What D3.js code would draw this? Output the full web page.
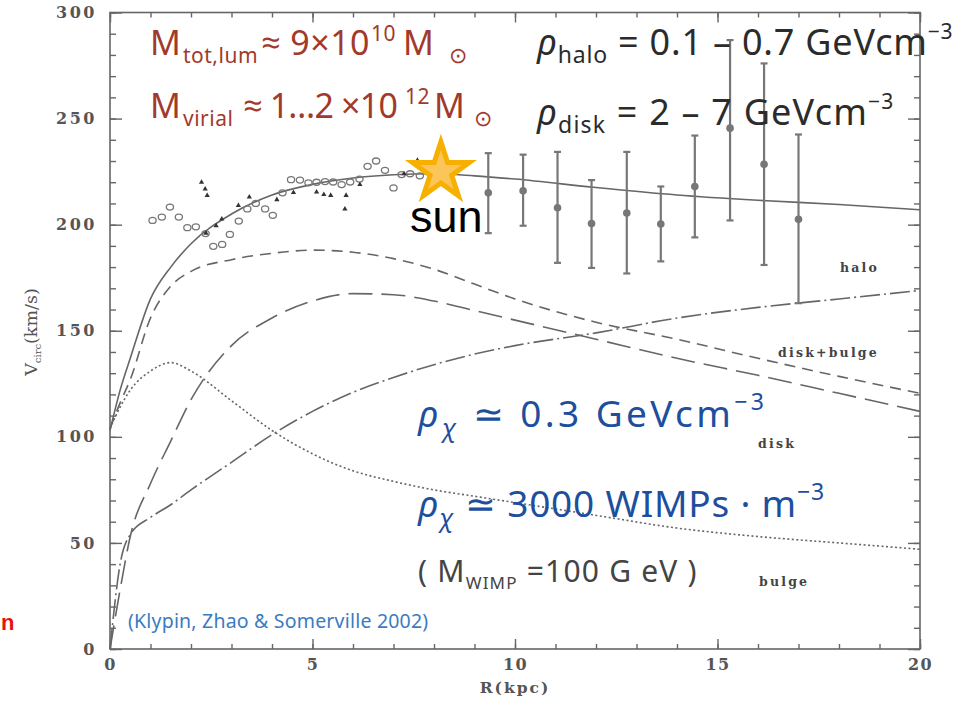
<!DOCTYPE html>
<html>
<head>
<meta charset="utf-8">
<script src="https://cdn.jsdelivr.net/npm/d3@7"></script>
<style>
  body { margin: 0; background: #fff; }
  svg { display: block; }
</style>
</head>
<body>
<script>
// canvas
var w = 965, h = 701;

// model curves (R in kpc, V in km/s)
var R         = [0, 0.25, 0.5, 1, 1.5, 2, 3, 4, 5, 6, 7, 8, 9, 10, 12, 14, 16, 18, 20];
var vTotal    = [103, 122, 137, 165, 180, 191, 205, 214, 219, 222, 223.5, 224, 223, 221.5, 217.5, 214, 211.5, 209.5, 207];
var vDiskBulge= [104, 116, 127, 156, 171, 178, 183.5, 186.5, 188, 187, 184, 179, 172, 165, 154, 146, 137, 128.5, 120.5];
var vDisk     = [0, 28, 53, 78, 98, 117.5, 143, 156, 164, 167.5, 167, 164, 159.5, 155, 146, 137, 129, 120.5, 112];
var vHalo     = [0, 40, 54, 62, 68, 75, 88, 101, 112, 121, 128, 134, 139, 143, 149, 156, 161, 165, 169];
var vBulge    = [104, 114, 122, 131, 135, 131, 117, 103, 92, 84, 79, 75, 72, 69, 63, 57, 53, 50, 47];

// outer rotation curve points with errors
var errR  = [9.34, 10.2, 11.05, 11.89, 12.76, 13.6, 14.44, 15.31, 16.15, 17.0];
var errV  = [215, 216, 208, 200.5, 205.5, 200.3, 218, 245.5, 228.5, 202.5];
var errLo = [196, 199.5, 182, 179.6, 177, 182.7, 194, 202, 181, 163];
var errHi = [233.7, 233, 234.3, 221, 234.3, 218, 242, 287, 276, 242.5];

// inner data: open circles
var obsR = [1.05, 1.28, 1.48, 1.70, 1.91, 2.12, 2.36, 2.55, 2.77, 2.96, 3.18, 3.39, 3.60, 3.83, 4.02, 4.26, 4.47, 4.69, 4.90, 5.10, 5.31, 5.51, 5.72, 5.93, 6.16, 6.36, 6.57, 6.79, 7.00, 7.20, 7.41, 7.65];
var obsV = [202, 203.6, 208.3, 203.6, 198.6, 199, 195.8, 189.8, 190.7, 195.4, 201.7, 207.4, 210, 207.4, 204.4, 215, 221.2, 221, 219.7, 220, 220.3, 220.1, 218.9, 220.1, 221.5, 227.5, 230, 225.6, 217.3, 223.6, 224, 223];

// inner data: filled markers
var dotR = [2.26, 2.35, 2.40, 2.37, 2.62, 2.76, 3.17, 3.44, 4.12, 4.53, 5.10, 5.28, 5.45, 5.83, 5.80, 6.17, 7.26, 7.59, 7.90];
var dotV = [220, 216.8, 213.7, 196, 199.5, 202.7, 209, 213, 211.8, 215.2, 215.4, 214.2, 213.8, 213.8, 207.4, 218.9, 224, 230.3, 229];

// sun position
var sunR = 8.17, sunV = 225;

// ticks
var xMajor = [0, 5, 10, 15, 20];
var yMajor = [0, 50, 100, 150, 200, 250, 300];

var svg = d3.select("body").append("svg")
	.attr("width", w)
	.attr("height", h);

var x = d3.scaleLinear().domain([0, 20]).range([110, 920]);
var y = d3.scaleLinear().domain([0, 300]).range([649, 12.5]);

var axisColor = "#666";
var tickFont = "'DejaVu Serif', serif";

// frame
svg.append("rect")
	.attr("x", x(0)).attr("y", y(300))
	.attr("width", x(20) - x(0)).attr("height", y(0) - y(300))
	.attr("fill", "none").attr("stroke", axisColor).attr("stroke-width", 1.6);

function styleAxis(g, spacing) {
	g.select(".domain").remove();
	g.selectAll(".tick line").attr("stroke", axisColor).attr("stroke-width", 1.4);
	g.selectAll(".tick text")
		.attr("fill", "#555")
		.style("font-family", tickFont)
		.style("font-size", "16px")
		.style("font-weight", "bold")
		.style("letter-spacing", (spacing || 1) + "px");
}

// bottom
svg.append("g").attr("transform", "translate(0," + y(0) + ")")
	.call(d3.axisBottom(x).tickValues(d3.range(0, 21, 1)).tickSize(-5).tickFormat(""))
	.call(styleAxis);
svg.append("g").attr("transform", "translate(0," + y(0) + ")")
	.call(d3.axisBottom(x).tickValues(xMajor).tickSize(-10).tickPadding(10).tickFormat(d3.format("d")))
	.call(styleAxis, 1.5);
// top
svg.append("g").attr("transform", "translate(0," + y(300) + ")")
	.call(d3.axisTop(x).tickValues(d3.range(0, 21, 1)).tickSize(-5).tickFormat(""))
	.call(styleAxis);
svg.append("g").attr("transform", "translate(0," + y(300) + ")")
	.call(d3.axisTop(x).tickValues(xMajor).tickSize(-10).tickFormat(""))
	.call(styleAxis);
// left
svg.append("g").attr("transform", "translate(" + x(0) + ",0)")
	.call(d3.axisLeft(y).tickValues(d3.range(0, 301, 10)).tickSize(-6).tickFormat(""))
	.call(styleAxis);
svg.append("g").attr("transform", "translate(" + x(0) + ",0)")
	.call(d3.axisLeft(y).tickValues(yMajor).tickSize(-12).tickPadding(13).tickFormat(d3.format("d")))
	.call(styleAxis, 2.5);
// right
svg.append("g").attr("transform", "translate(" + x(20) + ",0)")
	.call(d3.axisRight(y).tickValues(d3.range(0, 301, 10)).tickSize(-6).tickFormat(""))
	.call(styleAxis);
svg.append("g").attr("transform", "translate(" + x(20) + ",0)")
	.call(d3.axisRight(y).tickValues(yMajor).tickSize(-12).tickFormat(""))
	.call(styleAxis);

// axis titles
svg.append("text")
	.attr("x", 515).attr("y", 693)
	.attr("text-anchor", "middle")
	.attr("fill", "#555")
	.style("font-family", tickFont).style("font-size", "15.5px").style("font-weight", "bold")
	.style("letter-spacing", "2px")
	.text("R(kpc)");

var yt = svg.append("text")
	.attr("transform", "translate(37,332) rotate(-90)")
	.attr("text-anchor", "middle")
	.attr("fill", "#555")
	.style("font-family", tickFont).style("font-size", "17.5px");
yt.append("tspan").text("V");
yt.append("tspan").attr("dy", 4).style("font-size", "10px").text("circ");
yt.append("tspan").attr("dy", -4).text("(km/s)");

// model curves
var curves = [
	{ v: vTotal,     dash: null },
	{ v: vDiskBulge, dash: "11,7" },
	{ v: vDisk,      dash: "24,9" },
	{ v: vHalo,      dash: "20,4,2,4" },
	{ v: vBulge,     dash: "2,2.5" }
];

var line = d3.line()
	.x(function(d) { return x(d[0]); })
	.y(function(d) { return y(d[1]); })
	.curve(d3.curveMonotoneX);

curves.forEach(function(c) {
	svg.append("path")
		.datum(R.map(function(r, i) { return [r, c.v[i]]; }))
		.attr("d", line)
		.attr("fill", "none")
		.attr("stroke", "#666")
		.attr("stroke-width", 1.6)
		.attr("stroke-dasharray", c.dash);
});

// error bars
var errG = svg.append("g").attr("stroke", "#777").attr("stroke-width", 2.2);
errR.forEach(function(r, i) {
	errG.append("line")
		.attr("x1", x(r)).attr("x2", x(r))
		.attr("y1", y(errLo[i])).attr("y2", y(errHi[i]));
	errG.append("line")
		.attr("x1", x(r) - 3.5).attr("x2", x(r) + 3.5)
		.attr("y1", y(errLo[i])).attr("y2", y(errLo[i]));
	errG.append("line")
		.attr("x1", x(r) - 3.5).attr("x2", x(r) + 3.5)
		.attr("y1", y(errHi[i])).attr("y2", y(errHi[i]));
});
svg.selectAll(".errdot")
	.data(errR)
	.enter().append("circle")
	.attr("cx", function(d) { return x(d); })
	.attr("cy", function(d, i) { return y(errV[i]); })
	.attr("r", 3.8)
	.attr("fill", "#777");

// open circles
svg.selectAll(".obs")
	.data(obsR)
	.enter().append("ellipse")
	.attr("cx", function(d) { return x(d); })
	.attr("cy", function(d, i) { return y(obsV[i]); })
	.attr("rx", 3.6).attr("ry", 3)
	.attr("fill", "none")
	.attr("stroke", "#777")
	.attr("stroke-width", 1.3);

// filled markers
svg.selectAll(".dot")
	.data(dotR)
	.enter().append("path")
	.attr("d", d3.symbol(d3.symbolTriangle).size(12))
	.attr("transform", function(d, i) { return "translate(" + x(d) + "," + y(dotV[i]) + ")"; })
	.attr("fill", "#333");

// curve labels
var lblStyle = function(t) {
	t.attr("fill", "#444")
		.style("font-family", tickFont)
		.style("font-size", "12.5px")
		.style("font-weight", "bold")
		.style("letter-spacing", "2.2px");
};
svg.append("text").attr("x", 840).attr("y", 272).text("halo").call(lblStyle);
svg.append("text").attr("x", 778).attr("y", 357).text("disk+bulge").call(lblStyle);
svg.append("text").attr("x", 758).attr("y", 448).text("disk").call(lblStyle);
svg.append("text").attr("x", 759).attr("y", 586).text("bulge").call(lblStyle);

// annotations
var sans = "'Noto Sans', 'Open Sans', sans-serif";
var red = "#a23a2b", blue = "#1d4f9e", dark = "#2b2b2b";

// parts: t = text, s = size, dy = shift, i = italic, x = absolute start, ls = letter spacing
function rich(xp, yp, size, color, spacing, parts) {
	var t = svg.append("text")
		.attr("x", xp).attr("y", yp)
		.attr("fill", color)
		.style("font-family", sans)
		.style("font-size", size + "px")
		.style("letter-spacing", spacing + "px");
	parts.forEach(function(p) {
		var s = t.append("tspan").text(p.t);
		if (p.x) s.attr("x", p.x);
		if (p.dy) s.attr("dy", p.dy);
		if (p.s) s.style("font-size", p.s + "px");
		if (p.i) s.style("font-style", "italic");
		if (p.ls !== undefined) s.style("letter-spacing", p.ls + "px");
	});
	return t;
}

rich(150, 55, 34, red, 0.5, [
	{ t: "M" }, { t: "tot,lum", s: 21, dy: 8, x: 183 },
	{ t: "\u2248 9\u00d710", dy: -8, x: 261 }, { t: "10", s: 21, dy: -14, x: 371 },
	{ t: "M", dy: 14, x: 403 }, { t: "\u2299", s: 22, dy: 8, x: 449 }
]);
rich(150, 118, 34, red, 0.5, [
	{ t: "M" }, { t: "virial", s: 21, dy: 8, x: 183 },
	{ t: "\u2248 1\u20262 \u00d710", dy: -8, x: 243, ls: -0.8 }, { t: "12", s: 21, dy: -14, x: 405 },
	{ t: "M", dy: 14, x: 434 }, { t: "\u2299", s: 22, dy: 8, x: 474 }
]);
rich(537, 55, 36, dark, 0.8, [
	{ t: "\u03c1", i: true }, { t: "halo", s: 23, dy: 8 },
	{ t: " = 0.1 \u2013 0.7 GeVcm", dy: -8 }, { t: "\u22123", s: 21, dy: -16 }
]);
rich(537, 125, 36, dark, 1.2, [
	{ t: "\u03c1", i: true }, { t: "disk", s: 23, dy: 8 },
	{ t: " = 2 \u2013 7 GeVcm", dy: -8 }, { t: "\u22123", s: 21, dy: -16 }
]);
rich(418, 427, 37, blue, 3.4, [
	{ t: "\u03c1", i: true }, { t: "\u03c7", s: 25, dy: 10, i: true },
	{ t: " \u2243 0.3 GeVcm", dy: -10 }, { t: "\u22123", s: 23, dy: -17 }
]);
rich(418, 517, 37, blue, 0.8, [
	{ t: "\u03c1", i: true }, { t: "\u03c7", s: 25, dy: 10, i: true },
	{ t: " \u2243 3000 WIMPs \u00b7 m", dy: -10 }, { t: "\u22123", s: 23, dy: -17 }
]);
rich(418, 582, 30, "#444", 1.2, [
	{ t: "( M" }, { t: "WIMP", s: 17, dy: 7 },
	{ t: " =100 G eV )", dy: -7 }
]);
rich(128, 628, 19.5, "#3b7bbf", 0.2, [{ t: "(Klypin, Zhao & Somerville 2002)" }]);

// the sun
svg.append("path")
	.attr("d", d3.symbol(d3.symbolStar).size(1000))
	.attr("transform", "translate(" + x(sunR) + "," + y(sunV) + ")")
	.attr("fill", "#fcc55a")
	.attr("stroke", "#f7b000")
	.attr("stroke-width", 5)
	.attr("stroke-linejoin", "miter");
svg.append("text")
	.attr("x", 410).attr("y", 232)
	.attr("fill", "#000")
	.style("font-family", "'Liberation Sans', Arial, sans-serif")
	.style("font-size", "45px")
	.text("sun");

// red letter at the left edge
svg.append("text")
	.attr("x", 1).attr("y", 630)
	.attr("fill", "#e8120c")
	.style("font-family", "'Liberation Sans', Arial, sans-serif")
	.style("font-size", "22px")
	.style("font-weight", "bold")
	.text("n");
</script>
</body>
</html>
